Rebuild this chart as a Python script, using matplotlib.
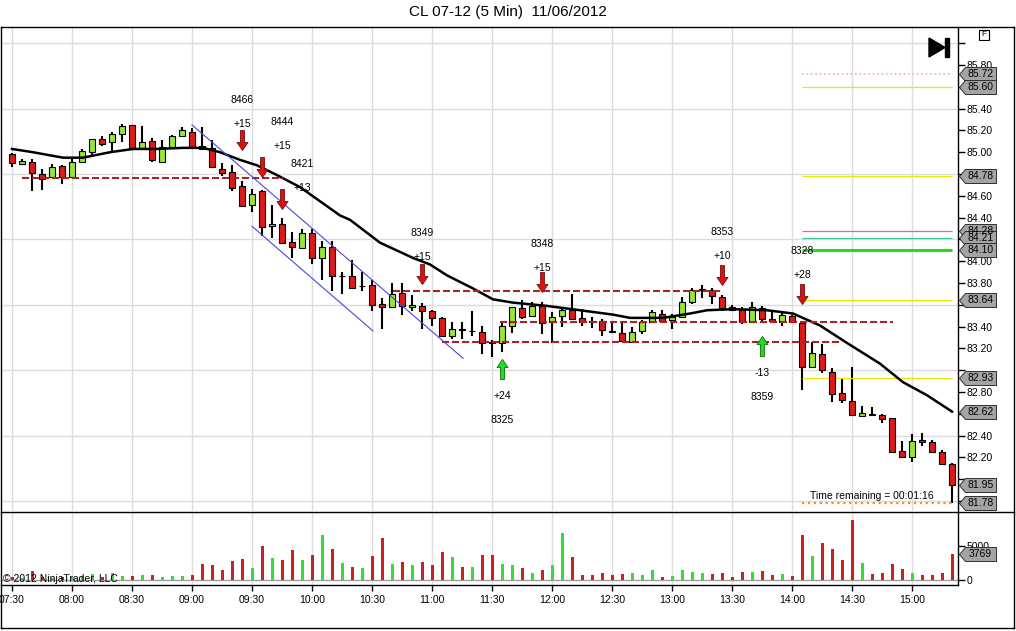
import matplotlib
matplotlib.use("Agg")
import matplotlib.pyplot as plt
from matplotlib.path import Path
from matplotlib.lines import Line2D
from matplotlib.patches import Polygon, Rectangle
import numpy as np
import pandas as pd

plt.rcParams['font.family'] = ['Liberation Sans', 'DejaVu Sans']

# %% data (CL 07-12, 5 min bars, 11/06/2012)
opens = [84.98, 84.89, 84.91, 84.80, 84.77, 84.87, 84.77, 84.91, 85.00, 85.12,
         85.09, 85.17, 85.25, 85.04, 85.10, 84.91, 85.05, 85.15, 85.19, 85.06,
         85.04, 84.85, 84.82, 84.69, 84.52, 84.64, 84.32, 84.34, 84.18, 84.12,
         84.26, 84.03, 84.13, 83.86, 83.86, 83.77, 83.78, 83.61, 83.58, 83.71,
         83.58, 83.59, 83.54, 83.48, 83.31, 83.38, 83.36, 83.35, 83.26, 83.25,
         83.41, 83.57, 83.50, 83.59, 83.44, 83.50, 83.55, 83.48, 83.45, 83.45,
         83.36, 83.34, 83.26, 83.36, 83.44, 83.52, 83.46, 83.49, 83.63, 83.74,
         83.74, 83.67, 83.58, 83.55, 83.44, 83.57, 83.47, 83.44, 83.50, 83.43,
         83.03, 83.15, 82.98, 82.79, 82.72, 82.58, 82.60, 82.59, 82.56, 82.26,
         82.20, 82.36, 82.34, 82.25, 82.14]
highs = [84.99, 84.94, 84.94, 84.85, 84.89, 84.88, 84.96, 85.03, 85.12, 85.15,
         85.19, 85.26, 85.25, 85.24, 85.13, 85.11, 85.16, 85.23, 85.22, 85.23,
         85.11, 84.90, 84.88, 84.74, 84.66, 84.65, 84.52, 84.40, 84.27, 84.30,
         84.30, 84.19, 84.19, 83.90, 84.01, 83.90, 83.83, 83.66, 83.80, 83.80,
         83.69, 83.62, 83.55, 83.49, 83.44, 83.44, 83.54, 83.41, 83.28, 83.44,
         83.58, 83.64, 83.63, 83.63, 83.53, 83.58, 83.70, 83.56, 83.49, 83.47,
         83.45, 83.45, 83.40, 83.46, 83.55, 83.55, 83.52, 83.67, 83.75, 83.78,
         83.75, 83.69, 83.60, 83.58, 83.63, 83.59, 83.54, 83.53, 83.51, 83.44,
         83.26, 83.24, 83.02, 82.93, 83.03, 82.67, 82.66, 82.60, 82.56, 82.35,
         82.41, 82.42, 82.36, 82.27, 82.15]
lows = [84.86, 84.88, 84.64, 84.65, 84.77, 84.71, 84.77, 84.91, 84.97, 85.06,
        85.00, 85.09, 85.03, 85.04, 84.91, 84.91, 85.05, 85.15, 85.05, 85.02,
        84.86, 84.78, 84.64, 84.50, 84.45, 84.23, 84.21, 84.17, 84.03, 84.12,
        83.97, 83.83, 83.73, 83.70, 83.75, 83.73, 83.54, 83.38, 83.58, 83.51,
        83.54, 83.38, 83.41, 83.31, 83.29, 83.29, 83.31, 83.15, 83.12, 83.17,
        83.34, 83.47, 83.50, 83.33, 83.25, 83.40, 83.47, 83.41, 83.39, 83.31,
        83.35, 83.27, 83.26, 83.33, 83.44, 83.45, 83.38, 83.49, 83.61, 83.66,
        83.61, 83.54, 83.55, 83.42, 83.44, 83.44, 83.44, 83.41, 83.44, 82.82,
        83.02, 82.97, 82.71, 82.70, 82.59, 82.58, 82.58, 82.52, 82.25, 82.20,
        82.16, 82.30, 82.25, 82.14, 81.78]
closes = [84.90, 84.92, 84.81, 84.75, 84.86, 84.77, 84.91, 85.01, 85.12, 85.08,
          85.17, 85.24, 85.03, 85.09, 84.93, 85.05, 85.15, 85.20, 85.05, 85.03,
          84.86, 84.81, 84.67, 84.51, 84.62, 84.31, 84.34, 84.17, 84.13, 84.26,
          84.03, 84.13, 83.86, 83.86, 83.75, 83.77, 83.60, 83.58, 83.70, 83.59,
          83.60, 83.54, 83.48, 83.31, 83.38, 83.37, 83.36, 83.25, 83.25, 83.41,
          83.58, 83.49, 83.59, 83.43, 83.49, 83.55, 83.47, 83.44, 83.44, 83.37,
          83.35, 83.27, 83.35, 83.44, 83.53, 83.45, 83.49, 83.63, 83.74, 83.74,
          83.68, 83.57, 83.55, 83.44, 83.58, 83.47, 83.45, 83.51, 83.44, 83.03,
          83.16, 83.00, 82.78, 82.73, 82.59, 82.61, 82.59, 82.55, 82.25, 82.20,
          82.35, 82.34, 82.25, 82.14, 81.95]
volumes = [400, 300, 1300, 450, 350, 500, 400, 600, 880, 450,
           1080, 640, 590, 730, 730, 440, 590, 590, 730, 2350,
           2200, 1470, 2790, 3090, 1760, 5000, 3230, 2940, 4410, 2940,
           3670, 6620, 4560, 2500, 1910, 1760, 3530, 6170, 2350, 2650,
           2200, 2650, 2200, 4120, 3380, 1910, 1910, 3670, 3670, 2350,
           2200, 1760, 1030, 1470, 2200, 6900, 3380, 730, 730, 1030,
           730, 880, 1030, 730, 1470, 440, 590, 1470, 1180, 1030,
           880, 1030, 440, 1180, 1180, 1320, 730, 880, 590, 6620,
           3530, 5440, 4560, 2940, 8820, 2500, 880, 1030, 2350, 1620,
           1030, 730, 730, 1030, 3769]
times = pd.date_range("2012-11-06 07:30", periods=len(closes), freq="5min")

# moving average, read at a number of bars
ma_bars = [0, 2.1, 5.1, 7.1, 9.8, 12.1, 14.5, 17.1, 19.1, 20.8, 22.8, 24.5, 26.5,
           28.8, 30.8, 32.8, 33.8, 36.8, 40.1, 41.8, 43.5, 46.1, 48.1, 50.1, 53.5,
           56.8, 60.1, 61.8, 65.1, 67.8, 69.5, 72.1, 75.5, 78.1, 80.8, 83.5, 86.8,
           89.1, 91.5, 94]
ma_values = [85.03, 85.00, 84.95, 84.95, 85.00, 85.03, 85.03, 85.04, 85.04, 85.00,
             84.93, 84.88, 84.79, 84.68, 84.55, 84.42, 84.38, 84.17, 84.03, 83.97,
             83.87, 83.75, 83.65, 83.62, 83.59, 83.55, 83.51, 83.48, 83.48, 83.52,
             83.55, 83.56, 83.55, 83.52, 83.41, 83.25, 83.06, 82.89, 82.77, 82.62]

# dashed support / resistance lines: level, first bar, last bar
sr_levels = [84.76, 83.73, 83.44, 83.26]
sr_start = [1.0, 38.1, 48.8, 43.0]
sr_end = [27.1, 71.0, 88.1, 82.8]

# channel lines
chan_up_x, chan_up_y = [18.0, 45.1], [85.25, 83.11]
chan_lo_x, chan_lo_y = [24.0, 36.1], [84.32, 83.36]

# short entry signals (red arrows)
short_bars = [23, 25, 27, 41, 53, 71, 79]
short_tips = [85.02, 84.77, 84.48, 83.79, 83.72, 83.78, 83.61]
short_text = ["+15", "+15", "+13", "+15", "+15", "+10", "+28"]
short_ids = ["8466", "8444", "8421", "8349", "8348", "8353", "8328"]
short_lbl_bars = [23, 27, 29, 41, 53, 71, 79]
short_lbl_price = [85.26, 85.06, 84.67, 84.04, 83.94, 84.05, 83.87]
# long entry signals (green arrows)
long_bars = [49, 75]
long_tips = [83.10, 83.31]
long_text = ["+24", "-13"]
long_ids = ["8325", "8359"]
long_lbl_price = [82.76, 82.97]

# levels drawn over the last bars
lvl_values = [85.72, 85.60, 84.78, 84.28, 84.21, 84.10, 83.64, 82.93, 81.78]
lvl_colors = ['#f4b09a', '#e8e800', '#e8e800', '#e8609a', '#40c8a0', '#22dd22',
              '#e8e800', '#e8e800', '#ff8c20']
lvl_styles = [':', '-', '-', '-', '-', '-', '-', '-', ':']
lvl_widths = [1.2, 0.9, 0.9, 0.9, 0.9, 2.2, 0.9, 0.9, 1.6]
marker_values = [85.72, 85.60, 84.78, 84.28, 84.21, 84.10, 83.64, 82.93, 82.62, 81.95, 81.78]

# %% figure
W, H = 1016, 631
fig = plt.figure(figsize=(W / 100, H / 100), dpi=100)


def fbox(x0, y0, x1, y1):
    return [x0 / W, 1 - y1 / H, (x1 - x0) / W, (y1 - y0) / H]


def fline(x0, y0, x1, y1, **kw):
    fig.add_artist(Line2D([x0 / W, x1 / W], [1 - y0 / H, 1 - y1 / H],
                          transform=fig.transFigure, color='black', lw=1, **kw))


ax = fig.add_axes(fbox(2, 27, 958, 511))
axv = fig.add_axes(fbox(2, 512, 958, 585), sharex=ax)

for a in (ax, axv):
    for s in a.spines.values():
        s.set_visible(False)
    a.yaxis.tick_right()

x = np.arange(len(closes))
o = np.array(opens)
c = np.array(closes)
red = '#e01818'
green = '#96e632'

ax.set_xlim(-1.0, 94.6)
ax.set_ylim(81.708, 86.149)

grid_bars = np.arange(0, len(closes), 6)
for b in grid_bars:
    ax.axvline(b, color='#dcdcdc', lw=1, zorder=0)
    axv.axvline(b, color='#dcdcdc', lw=1, zorder=0)
for v in np.arange(81.8, 86.01, 0.6):
    ax.axhline(v, color='#dcdcdc', lw=1, zorder=0)

# candles
ax.vlines(x, lows, highs, color='black', lw=1.5, zorder=2)
body_lo = np.minimum(o, c)
body_h = np.maximum(np.abs(c - o), 0.004)
ax.bar(x, body_h, 0.62, bottom=body_lo, color=np.where(c > o, green, red),
       edgecolor='black', lw=0.8, zorder=3)

ax.plot(ma_bars, ma_values, color='black', lw=1.8, zorder=4)

ax.hlines(sr_levels, sr_start, sr_end, colors='#a02828', lw=1.5,
          linestyles=(0, (3.4, 1.4)), zorder=4)
ax.plot(chan_up_x, chan_up_y, color='#4848e0', lw=0.8, zorder=4)
ax.plot(chan_lo_x, chan_lo_y, color='#4848e0', lw=0.8, zorder=4)

for v, col, ls, lw in zip(lvl_values, lvl_colors, lvl_styles, lvl_widths):
    ax.hlines(v, 79, 94, colors=col, linestyles=ls, lw=lw, zorder=2)

# signal arrows
down_arrow = Path([(0, 0), (5.5, 8), (2, 8), (2, 20), (-2, 20), (-2, 8), (-5.5, 8), (0, 0)],
                  [Path.MOVETO] + [Path.LINETO] * 6 + [Path.CLOSEPOLY])
up_arrow = Path([(0, 0), (5.5, -8), (2, -8), (2, -20), (-2, -20), (-2, -8), (-5.5, -8), (0, 0)],
                [Path.MOVETO] + [Path.LINETO] * 6 + [Path.CLOSEPOLY])
ax.plot(short_bars, short_tips, ls='none', marker=down_arrow, ms=28.8,
        mfc='#e01010', mec='#701010', mew=0.6, zorder=6)
ax.plot(long_bars, long_tips, ls='none', marker=up_arrow, ms=28.8,
        mfc='#22dd22', mec='#107010', mew=0.6, zorder=6)
fs = 7.5
for b, p, t, n in zip(short_lbl_bars, short_lbl_price, short_text, short_ids):
    ax.text(b, p, t, ha='center', va='center', fontsize=fs, zorder=7)
    ax.annotate(n, (b, p), xytext=(0, 24), textcoords='offset pixels',
                ha='center', va='center', fontsize=fs, zorder=7)
for b, p, t, n in zip(long_bars, long_lbl_price, long_text, long_ids):
    ax.text(b, p, t, ha='center', va='center', fontsize=fs, zorder=7)
    ax.annotate(n, (b, p), xytext=(0, -24), textcoords='offset pixels',
                ha='center', va='center', fontsize=fs, zorder=7)

# price axis, labels hidden where a price marker sits on top of them
yt = np.round(np.arange(81.8, 86.01, 0.2), 2)
ylabels = []
for v in yt:
    hidden = v > 85.9 or min(abs(v - m) for m in marker_values) < 0.075
    ylabels.append('' if hidden else '%.2f' % v)
ax.set_yticks(yt)
ax.set_yticklabels(ylabels)
ax.tick_params(axis='y', direction='out', length=5, width=1, pad=1, labelsize=fs)
ax.tick_params(axis='x', bottom=False, labelbottom=False)

# price markers on the right
tag = Path([(0, 0), (6, 7), (37, 7), (37, -7), (6, -7), (0, 0)],
           [Path.MOVETO] + [Path.LINETO] * 4 + [Path.CLOSEPOLY])
for v in marker_values:
    ax.plot([94.7], [v], marker=tag, ms=53.3, mfc='#a4a4a4', mec='#303030',
            mew=0.7, clip_on=False, zorder=8)
    ax.text(96.85, v, '%.2f' % v, ha='center', va='center', fontsize=fs,
            clip_on=False, zorder=9)

# volume panel
axv.set_ylim(-735, 10000)
axv.bar(x, volumes, 0.3, color=np.where(c >= o, '#33dd33', '#cc2020'), zorder=2)
axv.axhline(0, color='#a0a0a0', lw=1, zorder=1)
axv.set_yticks([0, 5000])
axv.set_yticklabels(['0', '5000'])
axv.tick_params(axis='y', direction='out', length=5, width=1, pad=1, labelsize=fs)
axv.set_xticks(grid_bars)
axv.set_xticklabels(times[grid_bars].strftime('%H:%M'))
axv.tick_params(axis='x', direction='out', length=4, width=1, pad=3, labelsize=fs)
axv.plot([94.7], [volumes[-1]], marker=tag, ms=53.3, mfc='#a4a4a4', mec='#303030',
         mew=0.7, clip_on=False, zorder=8)
axv.text(96.85, volumes[-1], str(volumes[-1]), ha='center', va='center', fontsize=fs,
         clip_on=False, zorder=9)

# frame
fline(1, 27, 1014, 27)
fline(1, 27, 1, 628)
fline(1014, 27, 1014, 628)
fline(1, 628, 1014, 628)
fline(1, 511.5, 1014, 511.5)
fline(958, 27, 958, 585)
fline(1, 585, 958, 585)

# texts
fig.text(0.5, 1 - 12 / H, "CL 07-12 (5 Min)  11/06/2012", ha='center', va='center', fontsize=11)
fig.text(934 / W, 1 - 496 / H, "Time remaining = 00:01:16", ha='right', va='center', fontsize=fs)
fig.text(3 / W, 1 - 579 / H, "\u00a9 2012 NinjaTrader, LLC", ha='left', va='center', fontsize=fs)

# go-to-end icon and F box
fig.add_artist(Polygon([(929 / W, 1 - 38 / H), (929 / W, 1 - 57 / H), (945 / W, 1 - 47.5 / H)],
                       closed=True, color='black', transform=fig.transFigure))
fig.add_artist(Rectangle((945 / W, 1 - 57 / H), 4 / W, 19 / H, color='black',
                         transform=fig.transFigure))
fig.add_artist(Rectangle((979 / W, 1 - 40 / H), 10 / W, 10 / H, fill=False, ec='black', lw=0.8,
                         transform=fig.transFigure))
fig.text(984 / W, 1 - 35 / H, "F", ha='center', va='center', fontsize=6)

fig.savefig("out.png", dpi=100)
